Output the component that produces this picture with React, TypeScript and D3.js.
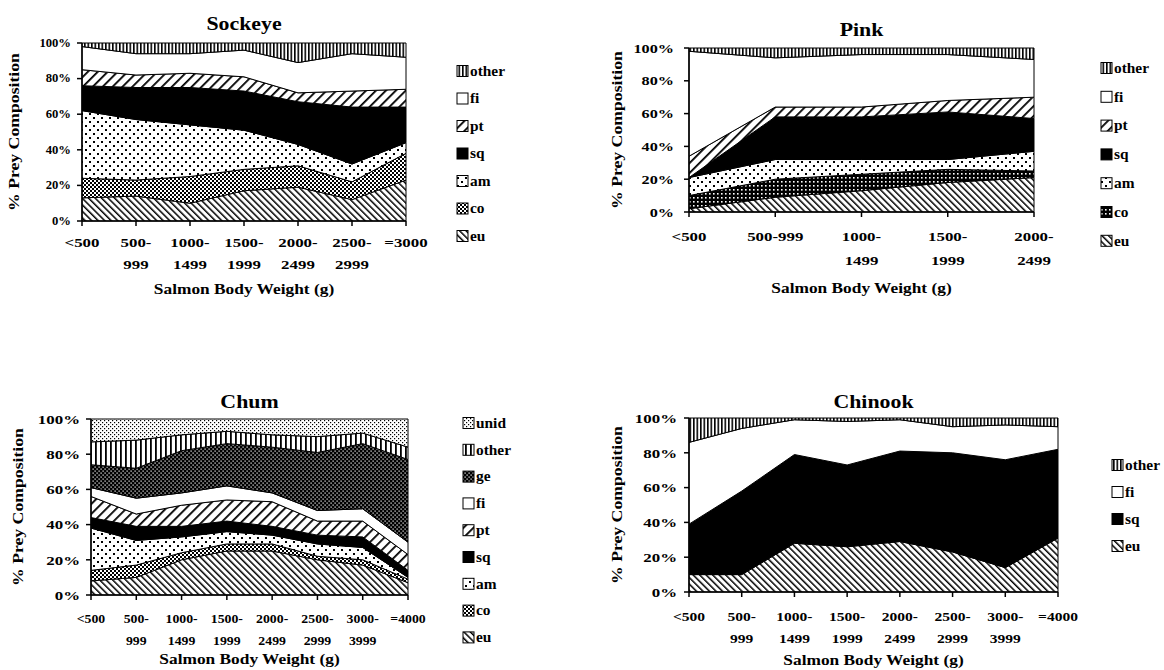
import React from "react";
import * as d3 from "d3";

// ---- Sockeye ----
const sockeyeWeights = ["<500", "500-|999", "1000-|1499", "1500-|1999", "2000-|2499", "2500-|2999", "=3000"];
const sockeyeEu = [13, 14, 10, 17, 19, 12, 23];
const sockeyeCo = [11, 9, 15, 12, 12, 10, 15];
const sockeyeAm = [38, 34, 29, 22, 12, 10, 6];
const sockeyeSq = [14, 18, 21, 22, 24, 32, 20];
const sockeyePt = [9, 7, 8, 8, 5, 9, 10];
const sockeyeFi = [13, 12, 11, 15, 17, 21, 18];
const sockeyeOther = [2, 6, 6, 4, 11, 6, 8];

// ---- Pink ----
const pinkWeights = ["<500", "500-999", "1000-|1499", "1500-|1999", "2000-|2499"];
const pinkEu = [2, 9, 13, 18, 21];
const pinkCo = [8, 11, 10, 8, 4];
const pinkAm = [11, 12, 9, 6, 12];
const pinkSq = [0, 26, 26, 29, 20];
const pinkPt = [13, 6, 6, 7, 13];
const pinkFi = [64, 30, 32, 28, 23];
const pinkOther = [2, 6, 4, 4, 7];

// ---- Chum ----
const chumWeights = ["<500", "500-|999", "1000-|1499", "1500-|1999", "2000-|2499", "2500-|2999", "3000-|3999", "=4000"];
const chumEu = [8, 10, 20, 25, 25, 20, 17, 7];
const chumCo = [6, 7, 4, 4, 4, 2, 3, 2];
const chumAm = [24, 14, 9, 7, 5, 7, 7, 1];
const chumSq = [6, 8, 6, 6, 5, 5, 6, 4];
const chumPt = [12, 7, 12, 12, 14, 8, 9, 9];
const chumFi = [5, 9, 7, 8, 5, 6, 7, 7];
const chumGe = [13, 17, 24, 24, 26, 33, 37, 47];
const chumOther = [13, 16, 9, 7, 7, 9, 6, 7];
const chumUnid = [13, 12, 9, 7, 9, 10, 8, 16];

// ---- Chinook ----
const chinookWeights = ["<500", "500-|999", "1000-|1499", "1500-|1999", "2000-|2499", "2500-|2999", "3000-|3999", "=4000"];
const chinookEu = [10, 10, 28, 26, 29, 23, 14, 31];
const chinookSq = [29, 48, 51, 47, 52, 57, 62, 51];
const chinookFi = [47, 36, 20, 25, 18, 15, 20, 13];
const chinookOther = [14, 6, 1, 2, 1, 5, 4, 5];

const yTicks = [0, 20, 40, 60, 80, 100];

const FONT = "'Liberation Serif', 'Times New Roman', serif";

type Series = { key: string; fill: string; values: number[] };

const panels = [
  {
    title: "Sockeye",
    weights: sockeyeWeights,
    series: [
      { key: "eu", fill: "url(#pEu)", values: sockeyeEu },
      { key: "co", fill: "url(#pCo)", values: sockeyeCo },
      { key: "am", fill: "url(#pAm)", values: sockeyeAm },
      { key: "sq", fill: "#000", values: sockeyeSq },
      { key: "pt", fill: "url(#pPt)", values: sockeyePt },
      { key: "fi", fill: "#fff", values: sockeyeFi },
      { key: "other", fill: "url(#pOther)", values: sockeyeOther },
    ],
    x0: 82, x1: 406, yTop: 43, yBot: 221,
    titleY: 24, yTitleX: 14, yTickX: 71, yTickSize: 11.5, yTickSx: 1.1,
    xl1: 243, xl2: 265, xTitleY: 289, xTickSize: 13, xTickSx: 1.3,
    legX: 457, legY: 71, legStep: 27.5,
  },
  {
    title: "Pink",
    weights: pinkWeights,
    series: [
      { key: "eu", fill: "url(#pEu)", values: pinkEu },
      { key: "co", fill: "url(#pCoDark)", values: pinkCo },
      { key: "am", fill: "url(#pAm)", values: pinkAm },
      { key: "sq", fill: "#000", values: pinkSq },
      { key: "pt", fill: "url(#pPt)", values: pinkPt },
      { key: "fi", fill: "#fff", values: pinkFi },
      { key: "other", fill: "url(#pOther)", values: pinkOther },
    ],
    x0: 689, x1: 1034, yTop: 48, yBot: 212,
    titleY: 30, yTitleX: 617, yTickX: 674, yTickSize: 13.5, yTickSx: 1.2,
    xl1: 236, xl2: 260, xTitleY: 288, xTickSize: 13.5, xTickSx: 1.25,
    legX: 1101, legY: 68, legStep: 28.8,
  },
  {
    title: "Chum",
    weights: chumWeights,
    series: [
      { key: "eu", fill: "url(#pEu)", values: chumEu },
      { key: "co", fill: "url(#pCo)", values: chumCo },
      { key: "am", fill: "url(#pAm)", values: chumAm },
      { key: "sq", fill: "#000", values: chumSq },
      { key: "pt", fill: "url(#pPt)", values: chumPt },
      { key: "fi", fill: "#fff", values: chumFi },
      { key: "ge", fill: "url(#pGe)", values: chumGe },
      { key: "other", fill: "url(#pOtherWide)", values: chumOther },
      { key: "unid", fill: "url(#pUnid)", values: chumUnid },
    ],
    x0: 91, x1: 408, yTop: 419, yBot: 595,
    titleY: 402, yTitleX: 18, yTickX: 80, yTickSize: 13.5, yTickSx: 1.25,
    xl1: 619, xl2: 641, xTitleY: 659, xTickSize: 12, xTickSx: 1.15,
    legX: 463, legY: 423, legStep: 26.8,
  },
  {
    title: "Chinook",
    weights: chinookWeights,
    series: [
      { key: "eu", fill: "url(#pEu)", values: chinookEu },
      { key: "sq", fill: "#000", values: chinookSq },
      { key: "fi", fill: "#fff", values: chinookFi },
      { key: "other", fill: "url(#pOther)", values: chinookOther },
    ],
    x0: 689, x1: 1058, yTop: 418, yBot: 592,
    titleY: 402, yTitleX: 617, yTickX: 677, yTickSize: 13.5, yTickSx: 1.25,
    xl1: 616, xl2: 638, xTitleY: 660, xTickSize: 13.5, xTickSx: 1.15,
    legX: 1112, legY: 465, legStep: 27,
  },
];

function T(props: any) {
  const { x, y, s, sx = 1, anchor = "middle", rot = 0, children } = props;
  const tr = `translate(${x},${y})` + (rot ? ` rotate(${rot})` : "") + ` scale(${sx},1)`;
  return (
    <text transform={tr} fontSize={s} textAnchor={anchor} dominantBaseline="central"
      fontWeight="bold" fontFamily={FONT} fill="#000">
      {children}
    </text>
  );
}

function Panel({ p }: { p: any }) {
  const x = d3.scalePoint<string>().domain(p.weights).range([p.x0, p.x1]).padding(0);
  const y = d3.scaleLinear().domain([0, 100]).range([p.yBot, p.yTop]);
  const keys = p.series.map((s: Series) => s.key);
  const rows = p.weights.map((w: string, i: number) => {
    const r: any = { w };
    p.series.forEach((s: Series) => (r[s.key] = s.values[i]));
    return r;
  });
  const stacked = d3.stack<any>().keys(keys)(rows);
  const area = d3.area<any>()
    .x((d) => x(d.data.w) as number)
    .y0((d) => y(d[0]))
    .y1((d) => y(d[1]));
  const cx = (p.x0 + p.x1) / 2;
  const legend = [...p.series].reverse();

  return (
    <g>
      {stacked.map((layer: any, i: number) => (
        <path key={layer.key} d={area(layer) || ""} fill={p.series[i].fill}
          stroke="#000" strokeWidth={1} />
      ))}
      {/* y axis */}
      <line x1={p.x0} x2={p.x0} y1={p.yTop} y2={p.yBot} stroke="#000" strokeWidth={1.5} />
      {yTicks.map((t) => (
        <g key={t}>
          <line x1={p.x0 - 5} x2={p.x0} y1={y(t)} y2={y(t)} stroke="#000" strokeWidth={1.5} />
          <T x={p.yTickX} y={y(t)} s={p.yTickSize} sx={p.yTickSx} anchor="end">{t + "%"}</T>
        </g>
      ))}
      {/* x axis */}
      <line x1={p.x0} x2={p.x1} y1={p.yBot} y2={p.yBot} stroke="#000" strokeWidth={1.5} />
      {p.weights.map((w: string) => {
        const lines = w.split("|");
        const xx = x(w) as number;
        return (
          <g key={w}>
            <line x1={xx} x2={xx} y1={p.yBot} y2={p.yBot + 5} stroke="#000" strokeWidth={1.5} />
            <T x={xx} y={p.xl1} s={p.xTickSize} sx={p.xTickSx}>{lines[0]}</T>
            {lines[1] && <T x={xx} y={p.xl2} s={p.xTickSize} sx={p.xTickSx}>{lines[1]}</T>}
          </g>
        );
      })}
      <T x={cx} y={p.titleY} s={19} sx={1.15}>{p.title}</T>
      <T x={p.yTitleX} y={(p.yTop + p.yBot) / 2} s={15} sx={1.18} rot={-90}>% Prey Composition</T>
      <T x={cx} y={p.xTitleY} s={14} sx={1.24}>Salmon Body Weight (g)</T>
      {legend.map((s: Series, i: number) => {
        const ly = p.legY + i * p.legStep;
        return (
          <g key={s.key}>
            <rect x={p.legX} y={ly - 5.5} width={11} height={11} fill={s.fill} stroke="#000" strokeWidth={1} />
            <T x={p.legX + 13} y={ly} s={14} sx={1.1} anchor="start">{s.key}</T>
          </g>
        );
      })}
    </g>
  );
}

export default function App() {
  return (
    <svg width={1164} height={670} style={{ position: "absolute", left: 0, top: 0, background: "#fff" }}>
      <defs>
        <pattern id="pOther" width="3.5" height="4" patternUnits="userSpaceOnUse">
          <rect width="3.5" height="4" fill="#fff" />
          <rect width="1.6" height="4" fill="#000" />
        </pattern>
        <pattern id="pOtherWide" width="5" height="4" patternUnits="userSpaceOnUse">
          <rect width="5" height="4" fill="#fff" />
          <rect width="1.8" height="4" fill="#000" />
        </pattern>
        <pattern id="pPt" width="7" height="7" patternUnits="userSpaceOnUse" patternTransform="rotate(45)">
          <rect width="7" height="7" fill="#fff" />
          <rect width="1.8" height="7" fill="#000" />
        </pattern>
        <pattern id="pEu" width="4.6" height="4.6" patternUnits="userSpaceOnUse" patternTransform="rotate(-45)">
          <rect width="4.6" height="4.6" fill="#fff" />
          <rect width="1.5" height="4.6" fill="#000" />
        </pattern>
        <pattern id="pAm" width="8" height="8" patternUnits="userSpaceOnUse">
          <rect width="8" height="8" fill="#fff" />
          <rect x="1" y="1" width="2" height="2" fill="#000" />
          <rect x="5" y="5" width="2" height="2" fill="#000" />
        </pattern>
        <pattern id="pCo" width="4" height="4" patternUnits="userSpaceOnUse">
          <rect width="4" height="4" fill="#fff" />
          <rect x="0" y="0" width="2" height="2" fill="#000" />
          <rect x="2" y="2" width="2" height="2" fill="#000" />
        </pattern>
        <pattern id="pCoDark" width="4" height="4" patternUnits="userSpaceOnUse">
          <rect width="4" height="4" fill="#000" />
          <rect x="1" y="1" width="1.6" height="1.6" fill="#fff" />
        </pattern>
        <pattern id="pGe" width="4" height="4" patternUnits="userSpaceOnUse">
          <rect width="4" height="4" fill="#000" />
          <rect x="0.5" y="0.5" width="1.2" height="1.2" fill="#fff" />
          <rect x="2.5" y="2.5" width="1.2" height="1.2" fill="#fff" />
        </pattern>
        <pattern id="pUnid" width="4" height="4" patternUnits="userSpaceOnUse">
          <rect width="4" height="4" fill="#fff" />
          <rect x="0" y="0" width="1.2" height="1.2" fill="#000" />
          <rect x="2" y="2" width="1.2" height="1.2" fill="#000" />
        </pattern>
      </defs>
      <rect width={1164} height={670} fill="#fff" />
      {panels.map((p) => (
        <Panel key={p.title} p={p} />
      ))}
    </svg>
  );
}
